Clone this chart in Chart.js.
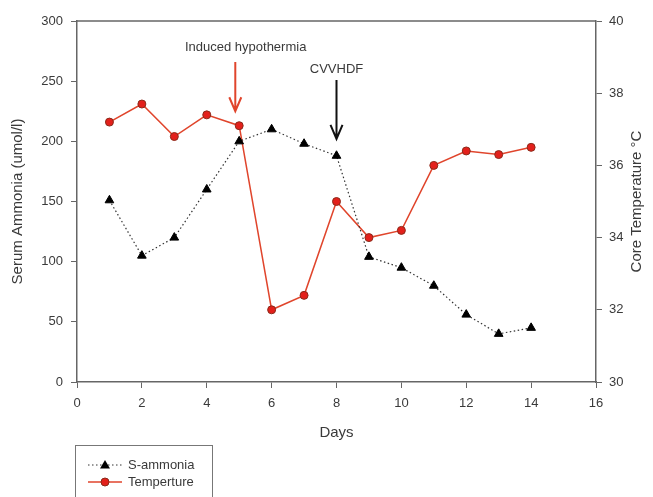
<!DOCTYPE html>
<html>
<head>
<meta charset="utf-8">
<script src="https://cdn.jsdelivr.net/npm/chart.js@4"></script>
<style>
  html, body { margin: 0; padding: 0; background: #fff; }
  #wrap { width: 653px; height: 497px; }
</style>
</head>
<body>
<div id="wrap"><canvas id="myCanvas" width="653" height="497"></canvas></div>
<script>
// data
const days = [1, 2, 3, 4, 5, 6, 7, 8, 9, 10, 11, 12, 13, 14];
const ammonia = [151, 105, 120, 160, 200, 210, 198, 188, 104, 95, 80, 56, 40, 45];
const temperature = [37.2, 37.7, 36.8, 37.4, 37.1, 32.0, 32.4, 35.0, 34.0, 34.2, 36.0, 36.4, 36.3, 36.5];

// annotations: label, day, text value, arrow top, arrow bottom (left axis units)
const notes = [
  { text: "Induced hypothermia", day: 4.88, textDay: 5.2, textAt: 278, from: 266, to: 225, color: "#e0452c" },
  { text: "CVVHDF", day: 8.0, textDay: 8.0, textAt: 260, from: 251, to: 202, color: "#111" }
];

const textColor = "#3a3a3a";
const axisColor = "#666";
const font = "'Liberation Sans', Arial, sans-serif";

// frame, arrows, right title and legend
const extras = {
  id: "extras",
  afterDraw(chart) {
    const ctx = chart.ctx;
    const x = chart.scales.x;
    const y = chart.scales.y;
    const area = chart.chartArea;
    ctx.save();

    // top frame line
    ctx.strokeStyle = axisColor;
    ctx.lineWidth = 1.5;
    ctx.beginPath();
    ctx.moveTo(area.left, area.top);
    ctx.lineTo(area.right, area.top);
    ctx.stroke();

    // arrows
    notes.forEach(n => {
      const ax = x.getPixelForValue(n.day);
      const y1 = y.getPixelForValue(n.from);
      const y2 = y.getPixelForValue(n.to);
      ctx.strokeStyle = n.color;
      ctx.lineWidth = 2;
      ctx.beginPath();
      ctx.moveTo(ax, y1);
      ctx.lineTo(ax, y2);
      ctx.moveTo(ax - 6, y2 - 14);
      ctx.lineTo(ax, y2);
      ctx.lineTo(ax + 6, y2 - 14);
      ctx.stroke();
      ctx.fillStyle = textColor;
      ctx.font = "13px " + font;
      ctx.textAlign = "center";
      ctx.textBaseline = "middle";
      ctx.fillText(n.text, x.getPixelForValue(n.textDay), y.getPixelForValue(n.textAt));
    });

    // right axis title, reading upward
    ctx.save();
    ctx.translate(637, (area.top + area.bottom) / 2);
    ctx.rotate(-Math.PI / 2);
    ctx.fillStyle = textColor;
    ctx.font = "15px " + font;
    ctx.textAlign = "center";
    ctx.textBaseline = "middle";
    ctx.fillText("Core Temperature \u00B0C", 0, 0);
    ctx.restore();

    // legend box
    ctx.strokeStyle = "#777";
    ctx.lineWidth = 1;
    ctx.strokeRect(75.5, 445.5, 137, 60);

    ctx.font = "13px " + font;
    ctx.textAlign = "left";
    ctx.textBaseline = "middle";

    // S-ammonia entry
    ctx.strokeStyle = "#333";
    ctx.setLineDash([1.5, 2.5]);
    ctx.beginPath();
    ctx.moveTo(88, 465);
    ctx.lineTo(122, 465);
    ctx.stroke();
    ctx.setLineDash([]);
    ctx.fillStyle = "#000";
    ctx.beginPath();
    ctx.moveTo(105, 460);
    ctx.lineTo(110, 468.5);
    ctx.lineTo(100, 468.5);
    ctx.closePath();
    ctx.fill();
    ctx.fillStyle = textColor;
    ctx.fillText("S-ammonia", 128, 465);

    // Temperture entry
    ctx.strokeStyle = "#e0452c";
    ctx.lineWidth = 1.5;
    ctx.beginPath();
    ctx.moveTo(88, 482);
    ctx.lineTo(122, 482);
    ctx.stroke();
    ctx.fillStyle = "#e3201b";
    ctx.strokeStyle = "#8a2a1a";
    ctx.lineWidth = 1;
    ctx.beginPath();
    ctx.arc(105, 482, 4, 0, Math.PI * 2);
    ctx.fill();
    ctx.stroke();
    ctx.fillStyle = textColor;
    ctx.fillText("Temperture", 128, 482);

    ctx.restore();
  }
};

function createChart() {
  const ctx = document.getElementById("myCanvas").getContext("2d");

  new Chart(ctx, {
    type: "line",
    data: {
      datasets: [
        {
          label: "S-ammonia",
          data: days.map((d, i) => ({ x: d, y: ammonia[i] })),
          yAxisID: "y",
          borderColor: "#333",
          borderWidth: 1.2,
          borderDash: [1.5, 2.5],
          pointStyle: "triangle",
          pointRadius: 5,
          pointBackgroundColor: "#000",
          pointBorderColor: "#000",
          pointBorderWidth: 1,
          tension: 0,
        },
        {
          label: "Temperture",
          data: days.map((d, i) => ({ x: d, y: temperature[i] })),
          yAxisID: "y1",
          borderColor: "#e0452c",
          borderWidth: 1.5,
          pointStyle: "circle",
          pointRadius: 4,
          pointBackgroundColor: "#e3201b",
          pointBorderColor: "#8a2a1a",
          pointBorderWidth: 1,
          tension: 0,
        },
      ],
    },
    options: {
      responsive: false,
      animation: false,
      layout: { padding: { top: 21, bottom: 57, left: 0, right: 0 } },
      plugins: { legend: { display: false }, tooltip: { enabled: false } },
      scales: {
        x: {
          type: "linear",
          min: 0,
          max: 16,
          afterFit: s => { s.height = 58; },
          ticks: { stepSize: 2, color: textColor, font: { size: 13, family: font }, padding: 8 },
          grid: { drawOnChartArea: false, tickLength: 6, color: axisColor },
          border: { color: axisColor, width: 1.5 },
          title: { display: true, text: "Days", color: textColor, font: { size: 15, family: font }, padding: { top: 0, bottom: -2 } },
        },
        y: {
          position: "left",
          min: 0,
          max: 300,
          afterFit: s => { s.width = 77; },
          ticks: { stepSize: 50, color: textColor, font: { size: 13, family: font }, padding: 8 },
          grid: { drawOnChartArea: false, tickLength: 6, color: axisColor },
          border: { color: axisColor, width: 1.5 },
          title: { display: true, text: "Serum Ammonia (umol/l)", color: textColor, font: { size: 15, family: font }, padding: { top: 9, bottom: 0 } },
        },
        y1: {
          position: "right",
          min: 30,
          max: 40,
          afterFit: s => { s.width = 57; },
          ticks: { stepSize: 2, color: textColor, font: { size: 13, family: font }, padding: 7 },
          grid: { drawOnChartArea: false, tickLength: 6, color: axisColor },
          border: { color: axisColor, width: 1.5 },
        },
      },
    },
    plugins: [extras],
  });
}

createChart();
</script>
</body>
</html>
